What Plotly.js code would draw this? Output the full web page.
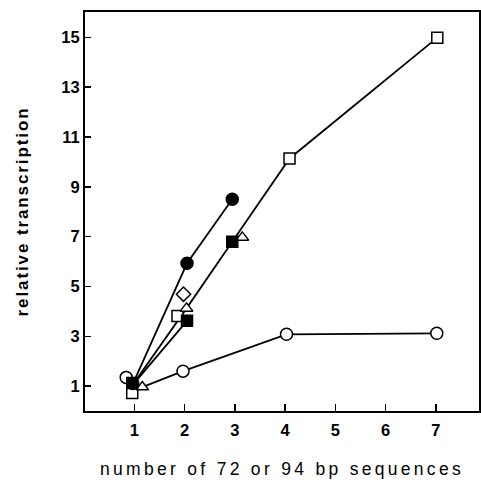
<!DOCTYPE html>
<html>
<head>
<meta charset="utf-8">
<script src="https://cdn.plot.ly/plotly-3.0.1.min.js"></script>
<style>
html,body{margin:0;padding:0;background:#fff;}
#chart{width:481px;height:480px;}
#chart .xtitle{letter-spacing:3.3px;}
#chart .ytitle{letter-spacing:1.9px;}
</style>
</head>
<body>
<div id="chart"></div>
<script>
// Filled circles series
const filledCircleX = [0.97, 2.05, 2.95];
const filledCircleY = [1.10, 5.93, 8.50];
// Open squares series
const openSquareX = [0.96, 1.86, 4.09, 7.03];
const openSquareY = [0.72, 3.81, 10.14, 14.99];
// Filled squares series
const filledSquareX = [0.96, 2.05, 2.95];
const filledSquareY = [1.12, 3.62, 6.80];
// Open triangles series
const triangleX = [1.16, 2.04, 3.15];
const triangleY = [0.96, 4.12, 6.97];
// Open diamond
const diamondX = [1.98];
const diamondY = [4.69];
// Open circles series
const openCircleX = [0.84, 1.97, 4.03, 7.02];
const openCircleY = [1.35, 1.60, 3.08, 3.12];
// Connecting lines
const lineAX = [0.97, 2.05, 2.95];
const lineAY = [1.08, 5.93, 8.50];
const lineBX = [0.97, 2.04, 2.95, 4.09, 7.03];
const lineBY = [1.05, 4.12, 6.80, 10.14, 14.99];
const lineCX = [0.97, 2.05];
const lineCY = [1.05, 3.62];
const lineDX = [1.16, 1.97, 4.03, 7.02];
const lineDY = [0.96, 1.60, 3.08, 3.12];

const xTicks = [1, 2, 3, 4, 5, 6, 7];
const yTicks = [1, 3, 5, 7, 9, 11, 13, 15];

const lineStyle = {color: '#000', width: 1.8};
function lineTrace(x, y) {
  return {x: x, y: y, mode: 'lines', line: lineStyle, hoverinfo: 'skip', showlegend: false};
}
function markerTrace(x, y, symbol, size, fill) {
  return {x: x, y: y, mode: 'markers', showlegend: false,
    marker: {symbol: symbol, size: size, color: fill, line: {color: '#000', width: 1.5}}};
}

const data = [
  lineTrace(lineAX, lineAY),
  lineTrace(lineBX, lineBY),
  lineTrace(lineCX, lineCY),
  lineTrace(lineDX, lineDY),
  markerTrace(openCircleX, openCircleY, 'circle', 12, '#fff'),
  markerTrace(openSquareX, openSquareY, 'square', 11, '#fff'),
  markerTrace(triangleX, triangleY, 'triangle-up', 11, '#fff'),
  markerTrace(diamondX, diamondY, 'diamond', 11, '#fff'),
  markerTrace(filledSquareX, filledSquareY, 'square', 11, '#000'),
  markerTrace(filledCircleX, filledCircleY, 'circle', 12, '#000')
];

const layout = {
  width: 481, height: 480,
  margin: {l: 85, r: 2, t: 12, b: 69},
  paper_bgcolor: '#fff', plot_bgcolor: '#fff',
  font: {family: 'Liberation Sans, Arial, sans-serif', color: '#000'},
  xaxis: {
    range: [0.02, 7.86], tickvals: xTicks, ticktext: xTicks.map(String),
    ticks: 'inside', ticklen: 7, tickwidth: 1.5, tickcolor: '#000',
    showline: true, mirror: true, linewidth: 2, linecolor: '#000',
    showgrid: false, zeroline: false, ticklabelstandoff: 3,
    tickfont: {size: 16.5, weight: 'bold'},
    title: {text: 'number of 72 or 94 bp sequences', font: {size: 17.5}, standoff: 25}
  },
  yaxis: {
    range: [0, 16.02], tickvals: yTicks, ticktext: yTicks.map(String),
    ticks: 'inside', ticklen: 6, tickwidth: 1.5, tickcolor: '#000',
    showline: true, mirror: true, linewidth: 2, linecolor: '#000',
    showgrid: false, zeroline: false,
    tickfont: {size: 16.5, weight: 'bold'},
    title: {text: 'relative transcription', font: {size: 17, weight: 'bold'}, standoff: 28}
  }
};

Plotly.newPlot('chart', data, layout, {displayModeBar: false, staticPlot: true});
</script>
</body>
</html>
